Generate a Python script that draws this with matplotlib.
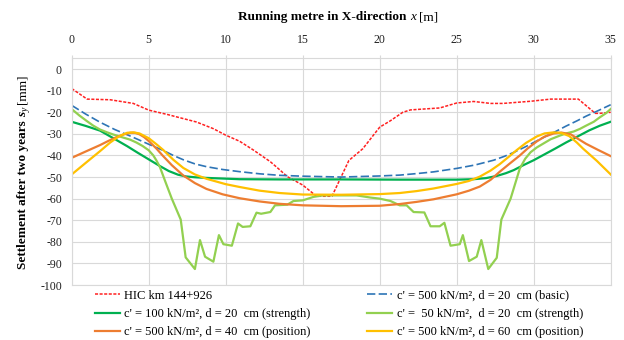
import matplotlib
matplotlib.use('Agg')
import matplotlib.pyplot as plt
from matplotlib.transforms import IdentityTransform

plt.rcParams['font.family'] = ['Liberation Serif', 'DejaVu Serif']
plt.rcParams['axes.unicode_minus'] = False

# measured settlement HIC km 144+926
x_hic = [0, 1, 2.5, 4, 5, 6.2, 8.1, 9.2, 10, 10.9, 11.8, 12.9, 13.5, 14, 15, 15.9,
         16.9, 18, 18.9, 20, 20.7, 21.5, 22, 23.9, 25, 26.1, 27.2, 28, 29.8, 31.1,
         32.9, 34, 34.3, 35]
s_hic = [-9, -13.9, -14.2, -15.9, -19, -21, -24.5, -27.6, -30.6, -33.4, -37.5, -42.9,
         -46.6, -49.8, -53.7, -58.9, -58.9, -42.3, -36.9, -26.9, -23.9, -20, -18.9,
         -18, -15.7, -15, -15.9, -15.9, -14.9, -13.9, -13.9, -20.5, -20.5, -20]

# c' = 500, d = 20 (basic)
x_basic = [0, 0.9, 1.84, 2.8, 3.8, 5, 5.95, 6.6, 7.25, 8, 8.75, 9.8, 10.9, 12.2, 13.5,
           15, 17.5, 20, 21.3, 22.4, 23.5, 25, 26.2, 27.4, 28.1, 28.7, 29.4, 30, 30.6,
           31.4, 32.1, 32.8, 33.4, 34.2, 35]
s_basic = [-16.8, -20.8, -24.6, -28, -31, -34.8, -37.7, -40, -42, -43.9, -45.2, -46.5,
           -47.5, -48.5, -49.2, -49.6, -50, -49.5, -49.1, -48.4, -47.6, -46, -44.4,
           -42.2, -40.4, -38.6, -36.2, -34, -31.8, -29, -26.4, -24, -21.8, -19.2, -16.5]

# c' = 100, d = 20 (strength)
x_c100 = [0, 0.9, 1.84, 2.7, 3.6, 4.3, 5, 5.7, 6.3, 6.9, 7.4, 8, 8.75, 10.9, 13.5, 17.5,
          21.3, 25, 26.1, 26.9, 27.6, 28.2, 28.7, 29.3, 30, 30.7, 31.4, 32.1, 32.8,
          33.6, 34.3, 35]
s_c100 = [-24.4, -26.3, -28.5, -32, -35.7, -38.8, -41.8, -44.8, -47.2, -48.9, -49.7,
          -50.1, -50.4, -51, -51.1, -51.1, -51.2, -51.2, -51, -50.5, -49.5, -48.2,
          -46.8, -44.6, -42.2, -39.5, -36.8, -34, -31.4, -28.4, -26.2, -24.4]

# c' = 50, d = 20 (strength)
x_c50 = [0, 0.5, 0.97, 1.4, 1.84, 2.3, 2.7, 3.2, 3.8, 4.2, 4.6, 5, 5.3, 5.5, 5.73, 6.1,
         6.5, 7.08, 7.4, 8.0, 8.33, 8.66, 9.2, 9.56, 9.85, 10.4, 10.8, 11.1, 11.6, 12.0,
         12.3, 12.9, 13.2, 14.0, 14.4, 15.0, 15.7, 16.3, 17.2, 18.5, 19.4, 20.0, 20.7,
         21.3, 21.75, 22.2, 22.9, 23.3, 23.9, 24.2, 24.6, 25.2, 25.4, 25.8, 26.3, 26.6,
         27.05, 27.6, 27.9, 28.5, 28.8, 29.1, 29.45, 29.8, 30.2, 30.6, 31.1, 31.7, 32.1,
         32.6, 33.0, 33.4, 33.9, 34.3, 34.7, 35]
s_c50 = [-18.5, -21.5, -24, -26.2, -28, -29.3, -30.3, -31.4, -32.7, -34, -35.6, -37.6,
         -40, -42.3, -45.4, -52.5, -60, -69.7, -87.2, -92.6, -79.2, -86.9, -89.2, -76.9,
         -81.1, -81.8, -71.5, -73.1, -72.8, -66.5, -67, -66.2, -63.1, -62.8, -61.1,
         -60.8, -59.2, -58.5, -58.5, -58.5, -59.5, -60, -61.1, -63.1, -63.1, -66.2,
         -66.4, -72.8, -72.8, -71.2, -81.8, -81.1, -76.9, -88.9, -86.9, -79.2, -92.6,
         -87.4, -69.7, -60, -53, -46, -41.5, -38.5, -36.3, -34.6, -32.5, -30.8, -29.8,
         -28.9, -27.7, -26.2, -24.4, -22.3, -20.4, -18.5]

# c' = 500, d = 40 (position)
x_d40 = [0, 0.9, 1.84, 2.4, 2.9, 3.4, 3.8, 4.1, 4.4, 4.7, 5, 5.5, 5.9, 6.5, 7.25, 8,
         8.75, 9.8, 10.9, 12.2, 13.5, 15, 17.5, 20, 21.3, 22.4, 23.5, 25, 25.8, 26.5,
         27.2, 27.8, 28.4, 29.1, 29.6, 30.2, 30.7, 31.3, 31.8, 32.4, 33.4, 34.2, 35]
s_d40 = [-41.1, -38.2, -35.2, -33.2, -31.6, -30.2, -29.5, -29.5, -30.2, -31.5, -33.3,
         -36.8, -40, -44.5, -49.3, -52.8, -55.5, -58, -59.8, -61.3, -62.4, -63.1, -63.5,
         -63.3, -62.5, -61.5, -60.3, -58, -56.3, -54.4, -51.3, -47.5, -44, -40, -36.8,
         -33.5, -31.3, -29.8, -29.4, -30.2, -34.6, -37.5, -40.3]

# c' = 500, d = 60 (position)
x_d60 = [0, 0.9, 1.84, 2.5, 3.1, 3.6, 4, 4.4, 5, 5.5, 5.95, 6.6, 7.25, 8, 8.75, 10, 10.9,
         12.2, 13.5, 15, 17.5, 20, 21.3, 22.4, 23.5, 25, 25.8, 26.5, 27.2, 27.8, 28.4,
         28.9, 29.5, 30.2, 30.7, 31.3, 31.8, 32.3, 32.8, 33.2, 34.1, 35]
s_d60 = [-48.8, -43.5, -38, -34, -31, -29.5, -29.3, -29.8, -32, -34.8, -37.5, -42,
         -45.8, -48.8, -50.8, -53.3, -54.6, -56.3, -57.4, -58.1, -58.2, -57.9, -57.4,
         -56.5, -55.3, -53.2, -51.8, -49.8, -47, -44, -40.5, -37.5, -34.2, -31.2, -29.8,
         -29.3, -29.6, -31, -34, -36.8, -42.5, -48.8]

x_ticks = [0, 5, 10, 15, 20, 25, 30, 35]
y_ticks = [-100, -90, -80, -70, -60, -50, -40, -30, -20, -10, 0]


def text_run(fig, x, y, pieces, rotation=0):
    # draw pieces of differently styled text one after the other (pixel coords)
    renderer = fig.canvas.get_renderer()
    texts = []
    total = 0.0
    for s, kw in pieces:
        kw = dict(kw)
        dx = kw.pop('dx', 0)
        gap = kw.pop('gap', 0)
        t = fig.text(0, 0, s, transform=IdentityTransform(), rotation=rotation,
                     rotation_mode='anchor', ha='left', va='baseline', **kw)
        bb = t.get_window_extent(renderer)
        length = bb.height if rotation == 90 else bb.width
        texts.append((t, dx, gap, length))
        total += gap + length
    pos = -total / 2.0
    for t, dx, gap, length in texts:
        pos += gap
        if rotation == 90:
            t.set_position((x + dx, y + pos))
        else:
            t.set_position((x + pos, y - dx))
        pos += length


fig = plt.figure(figsize=(6.24, 3.4), dpi=100)
ax = fig.add_axes([71.7 / 624, 55 / 340, 539 / 624, 226.7 / 340])

grid_col = '#d9d9d9'
l_hic, = ax.plot(x_hic, s_hic, color='#ff2020', lw=1.1, linestyle=(0, (2, 1)),
                 label='HIC km 144+926')
l_basic, = ax.plot(x_basic, s_basic, color='#2e75b6', lw=1.2, linestyle=(0, (5, 2)),
                   label="c' = 500 kN/m², d = 20  cm (basic)")
l_c100, = ax.plot(x_c100, s_c100, color='#00b050', lw=1.6,
                  label="c' = 100 kN/m², d = 20  cm (strength)")
l_c50, = ax.plot(x_c50, s_c50, color='#92d050', lw=1.6,
                 label="c' =  50 kN/m²,  d = 20  cm (strength)")
l_d40, = ax.plot(x_d40, s_d40, color='#ed7d31', lw=1.6,
                 label="c' = 500 kN/m², d = 40  cm (position)")
l_d60, = ax.plot(x_d60, s_d60, color='#ffc000', lw=1.6,
                 label="c' = 500 kN/m², d = 60  cm (position)")

ax.set_xlim(0, 35)
ax.set_ylim(-100, 5)
ax.set_xticks(x_ticks)
ax.set_yticks(y_ticks)
ax.xaxis.tick_top()
ax.grid(True, color=grid_col, lw=0.8)
ax.set_axisbelow(True)
for sp in ax.spines.values():
    sp.set_color(grid_col)
    sp.set_linewidth(0.8)
ax.tick_params(axis='x', direction='inout', length=5, width=0.8, color=grid_col,
               pad=6, labelsize=8.5, labelcolor='#202020')
ax.tick_params(axis='y', length=0, pad=7, labelsize=8.5, labelcolor='#202020')

handles = [l_hic, l_c100, l_d40, l_basic, l_c50, l_d60]
fig.legend(handles=handles, labels=[h.get_label() for h in handles], ncol=2,
           loc='center', bbox_to_anchor=(339 / 624, 26 / 340), frameon=False,
           fontsize=9, handlelength=2.0, handletextpad=0.4, columnspacing=4.5,
           labelspacing=0.5, borderpad=0, borderaxespad=0)

text_run(fig, 338, 340 - 20, [
    ('Running metre in X-direction', dict(fontsize=9.5, fontweight='bold')),
    ('x', dict(fontsize=9.5, fontstyle='italic', gap=3)),
    ('[m]', dict(fontsize=9.5, gap=3)),
])

text_run(fig, 26, 340 - 172, [
    ('Settlement after two years', dict(fontsize=9.5, fontweight='bold')),
    ('s', dict(fontsize=9.5, fontweight='bold', fontstyle='italic', gap=3)),
    ('y', dict(fontsize=7, fontstyle='italic', dx=3, gap=0.5)),
    ('[mm]', dict(fontsize=9.5, gap=3)),
], rotation=90)

fig.savefig('out.png', dpi=100)
